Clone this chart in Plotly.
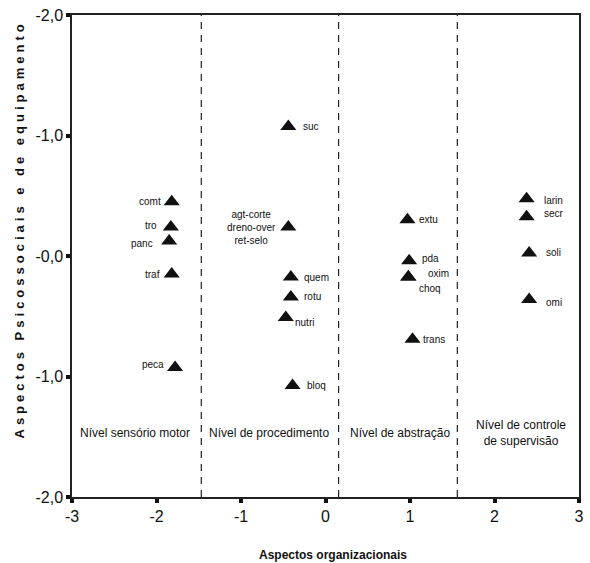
import plotly.graph_objects as go

# ---- data ----
names = ["suc", "comt", "tro", "panc", "traf", "peca",
         "agt-corte<br>dreno-over<br>ret-selo", "quem", "rotu", "nutri", "bloq",
         "extu", "pda", "oxim", "choq", "trans",
         "larin", "secr", "soli", "omi"]
x_vals = [-0.44, -1.82, -1.83, -1.85, -1.82, -1.78,
          -0.44, -0.41, -0.41, -0.47, -0.39,
          0.97, 0.99, 0.98, 0.98, 1.03,
          2.38, 2.38, 2.41, 2.41]
y_vals = [1.075, 0.45, 0.24, 0.125, -0.15, -0.925,
          0.24, -0.175, -0.34, -0.51, -1.075,
          0.30, -0.04, -0.175, -0.175, -0.69,
          0.475, 0.325, 0.025, -0.36]

boundaries = [-1.47, 0.155, 1.56]
levels = ["Nível sensório motor", "Nível de procedimento", "Nível de abstração",
          "Nível de controle<br>de supervisão"]
level_x = [-2.26, -0.67, 0.88, 2.31]
level_y = -1.47

x_ticks = [-3, -2, -1, 0, 1, 2, 3]
x_ticktext = ["-3", "-2", "-1", "0", "1", "2", "3"]
y_ticks = [-2, -1, 0, 1, 2]
y_ticktext = ["-2,0", "-1,0", "-0,0", "-1,0", "-2,0"]

x_title = "Aspectos organizacionais"
y_title = "Aspectos Psicossociais e de equipamento"

# label placement (anchor, xshift, yshift) in pixels
label_style = {
    "suc": ("left", 13, 0), "comt": ("right", -9, 0), "tro": ("right", -12, 2),
    "panc": ("right", -14, -3), "traf": ("right", -10, 0), "peca": ("right", -9, 3),
    "agt-corte<br>dreno-over<br>ret-selo": ("right", -10, 0),
    "quem": ("left", 11, 0), "rotu": ("left", 11, 0), "nutri": ("left", 7, -5),
    "bloq": ("left", 12, 0), "extu": ("left", 10, 0), "pda": ("left", 11, 2),
    "oxim": ("left", 18, 4), "choq": ("left", 9, -11), "trans": ("left", 8, 0),
    "larin": ("left", 15, -2), "secr": ("left", 15, 3), "soli": ("left", 15, 0),
    "omi": ("left", 15, -3),
}

FONT = "Liberation Sans, Arial, sans-serif"
INK = "#111111"

fig = go.Figure()
fig.add_trace(go.Scatter(
    x=x_vals, y=y_vals, mode="markers",
    marker=dict(symbol="triangle-up", size=14, color=INK),
    showlegend=False, hoverinfo="skip"))

for b in boundaries:
    fig.add_shape(type="line", x0=b, x1=b, y0=0, y1=1, xref="x", yref="paper",
                  line=dict(color="#222222", width=1.2, dash="7px,6px"))

anns = []
for n, x, y in zip(names, x_vals, y_vals):
    anc, xs, ys = label_style[n]
    anns.append(dict(x=x, y=y, xref="x", yref="y", text=n, showarrow=False,
                     xanchor=anc, yanchor="middle", xshift=xs, yshift=ys,
                     align="center", font=dict(family=FONT, size=10, color=INK)))
for t, x in zip(levels, level_x):
    anns.append(dict(x=x, y=level_y, xref="x", yref="y", text=t, showarrow=False,
                     xanchor="center", yanchor="middle", align="center",
                     font=dict(family=FONT, size=12, color=INK)))
anns.append(dict(x=0.515, y=-0.12, xref="paper", yref="paper", text="<b>" + x_title + "</b>",
                 showarrow=False, xanchor="center", yanchor="middle",
                 font=dict(family=FONT, size=12, color=INK)))
anns.append(dict(x=-0.1045, y=0.555, xref="paper", yref="paper", text="<b>" + y_title + "</b>",
                 showarrow=False, xanchor="center", yanchor="middle", textangle=-90,
                 font=dict(family=FONT, size=13, color=INK)))
fig.update_layout(annotations=anns)

axis_common = dict(showgrid=False, zeroline=False, showline=True, mirror=True,
                   linecolor="#222222", linewidth=1.5, automargin=False,
                   ticks="outside", ticklen=4, tickwidth=4, tickcolor=INK,
                   tickfont=dict(family=FONT, size=16, color=INK))
fig.update_layout(
    width=590, height=563,
    margin=dict(l=72, r=11, t=15, b=66),
    paper_bgcolor="white", plot_bgcolor="white",
    xaxis=dict(range=[-3, 3], tickvals=x_ticks, ticktext=x_ticktext, **axis_common),
    yaxis=dict(range=[-2, 2], tickvals=y_ticks, ticktext=y_ticktext, **axis_common),
)

post = """
(function(){
  document.body.style.margin = '0';
  document.body.style.overflow = 'hidden';
  var gd = document.getElementById('{plot_id}');
  function apply(){
    var anns = gd.querySelectorAll('.annotation');
    if (!anns.length) return;
    var last = anns[anns.length - 1];
    var t = last.querySelector('text');
    if (t) { t.style.letterSpacing = '4px'; }
  }
  apply();
  setTimeout(apply, 0);
  if (gd && gd.on) gd.on('plotly_afterplot', function(){ setTimeout(apply, 0); });
})();
"""

fig.write_html("out.html", post_script=post, config={"displayModeBar": False})
